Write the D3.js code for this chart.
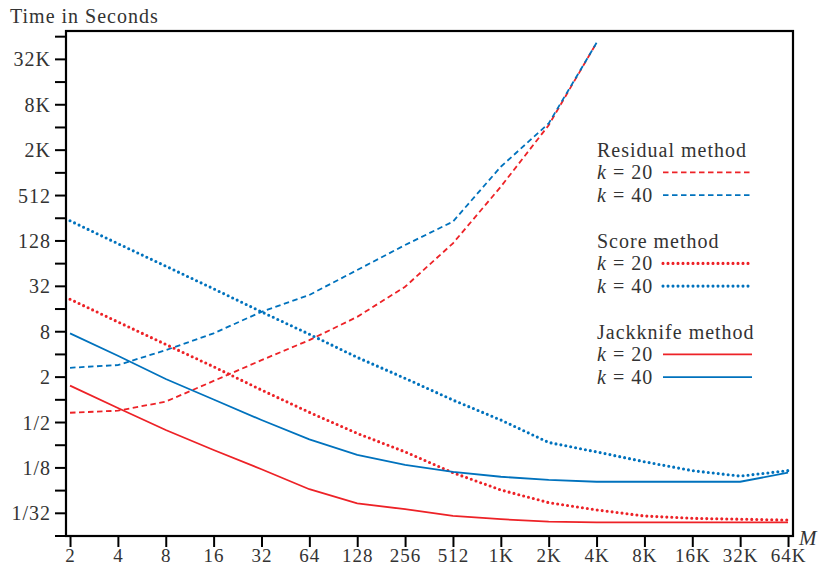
<!DOCTYPE html>
<html>
<head>
<meta charset="utf-8">
<script src="https://cdn.jsdelivr.net/npm/d3@7"></script>
<style>
  body { margin: 0; background: #fff; }
  text { font-family: "Liberation Serif", serif; fill: #333; letter-spacing: 1px; }
</style>
</head>
<body>
<svg id="chart"></svg>
<script>
// M values (x) and timings in seconds (y)
const mValues = [2, 4, 8, 16, 32, 64, 128, 256, 512, 1024, 2048, 4096, 8192, 16384, 32768, 65536];
const xTickLabels = ["2", "4", "8", "16", "32", "64", "128", "256", "512", "1K", "2K", "4K", "8K", "16K", "32K", "64K"];
const yTickValues = [1/32, 1/8, 1/2, 2, 8, 32, 128, 512, 2048, 8192, 32768];
const yTickLabels = ["1/32", "1/8", "1/2", "2", "8", "32", "128", "512", "2K", "8K", "32K"];

const residual20 = [0.674, 0.717, 0.946, 1.78, 3.36, 6.19, 12.6, 31.6, 119, 671, 4390, 54300];
const residual40 = [2.66, 2.89, 4.56, 7.62, 14.7, 24.6, 52.7, 113, 231, 1235, 4640, 54300];
const score20 = [21.6, 10.8, 5.43, 2.75, 1.35, 0.683, 0.359, 0.204, 0.108, 0.0638, 0.0433, 0.0347, 0.0288, 0.0268, 0.0261, 0.0254];
const score40 = [237, 118, 59.3, 29.7, 14.7, 7.41, 3.66, 1.93, 0.993, 0.540, 0.272, 0.204, 0.151, 0.115, 0.0974, 0.115];
const jack20 = [1.54, 0.779, 0.398, 0.216, 0.120, 0.0652, 0.0424, 0.0354, 0.0288, 0.0261, 0.0242, 0.0237, 0.0237, 0.0237, 0.0237, 0.0237];
const jack40 = [7.62, 3.84, 1.89, 1.01, 0.540, 0.299, 0.186, 0.137, 0.111, 0.0954, 0.0866, 0.0819, 0.0819, 0.0819, 0.0819, 0.108];

const methods = ["Residual method", "Score method", "Jackknife method"];
const kLabels = ["20", "40"];

const red = "#ed2227", blue = "#0072bd";
const dashed = "5.5,3.5", dotted = "0,5";

const series = [
  { vals: residual20, color: red, dash: dashed },
  { vals: residual40, color: blue, dash: dashed },
  { vals: score20, color: red, dash: dotted },
  { vals: score40, color: blue, dash: dotted },
  { vals: jack20, color: red, dash: null },
  { vals: jack40, color: blue, dash: null }
];

const W = 821, H = 568;
const plotL = 66, plotR = 793, plotT = 31, plotB = 536;

const svg = d3.select("#chart").attr("width", W).attr("height", H);

const x = d3.scaleLog().base(2)
  .domain([Math.pow(2, 0.916), Math.pow(2, 16.104)])
  .range([plotL, plotR]);
const y = d3.scaleLog().base(2)
  .domain([Math.pow(2, -6), Math.pow(2, 16.25)])
  .range([plotB, plotT]);

// series lines
const line = d3.line()
  .x((d, i) => x(mValues[i]))
  .y(d => y(d));

function styleStroke(sel, s) {
  sel.attr("fill", "none")
    .attr("stroke", s.color)
    .attr("stroke-width", s.dash === dotted ? 3.1 : 1.8)
    .attr("stroke-linecap", s.dash === dotted ? "round" : "butt")
    .attr("stroke-dasharray", s.dash);
}

series.forEach(s => {
  svg.append("path")
    .datum(s.vals)
    .attr("d", line)
    .call(styleStroke, s);
});

// frame
svg.append("rect")
  .attr("x", plotL).attr("y", plotT)
  .attr("width", plotR - plotL).attr("height", plotB - plotT)
  .attr("fill", "none")
  .attr("stroke", "#000")
  .attr("stroke-width", 2.2);

// y axis: ticks at every power of two, labels at every other
const yMinor = d3.range(-6, 17).map(e => Math.pow(2, e));
svg.append("g").selectAll("line")
  .data(yMinor).enter().append("line")
  .attr("x1", plotL - 11).attr("x2", plotL)
  .attr("y1", d => y(d)).attr("y2", d => y(d))
  .attr("stroke", "#000").attr("stroke-width", 2);

svg.append("g").selectAll("text")
  .data(yTickValues).enter().append("text")
  .attr("x", 51)
  .attr("y", d => y(d) + 7)
  .attr("text-anchor", "end")
  .style("font-size", "20px")
  .text((d, i) => yTickLabels[i]);

// x axis
const xAxis = d3.axisBottom(x)
  .tickValues(mValues)
  .tickFormat((d, i) => xTickLabels[i])
  .tickSize(11)
  .tickPadding(2);

const gx = svg.append("g")
  .attr("transform", `translate(0,${plotB})`)
  .call(xAxis);
gx.select(".domain").remove();
gx.selectAll(".tick line").attr("stroke", "#000").attr("stroke-width", 2);
gx.selectAll(".tick text")
  .attr("fill", "#333")
  .style("font-family", "Liberation Serif, serif")
  .style("font-size", "19px");

// axis titles
svg.append("text")
  .attr("x", 10).attr("y", 23)
  .style("font-size", "20px")
  .text("Time in Seconds");

svg.append("text")
  .attr("x", 799).attr("y", 545)
  .style("font-size", "21px")
  .style("font-style", "italic")
  .text("M");

// legend
const legend = svg.append("g");
methods.forEach((m, mi) => {
  const t = 156.7 + mi * 91;
  legend.append("text")
    .attr("x", 597).attr("y", t)
    .style("font-size", "20px")
    .text(m);
  kLabels.forEach((k, ki) => {
    const s = series[mi * 2 + ki];
    const b = t + 22.7 * (ki + 1);
    const txt = legend.append("text")
      .attr("x", 597).attr("y", b)
      .style("font-size", "20px");
    txt.append("tspan").style("font-style", "italic").text("k");
    txt.append("tspan").text(" = " + k);
    legend.append("line")
      .attr("x1", 663).attr("x2", 752)
      .attr("y1", b - 7).attr("y2", b - 7)
      .call(styleStroke, s);
  });
});
</script>
</body>
</html>
